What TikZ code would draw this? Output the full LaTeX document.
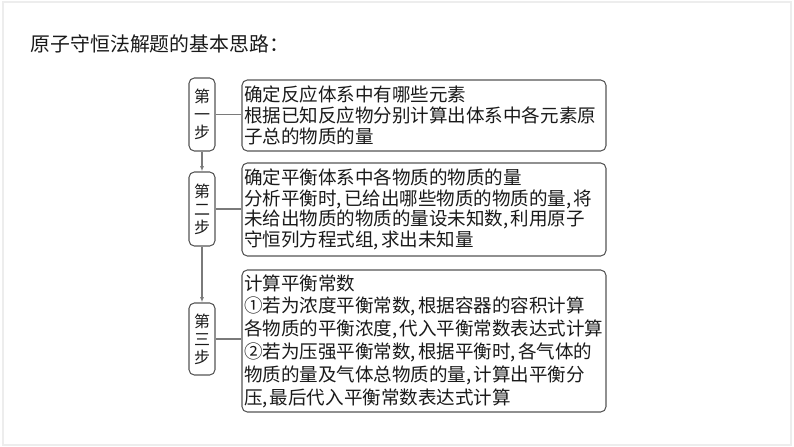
\documentclass[tikz,border=0pt]{standalone}
\usepackage{fontspec}
\setmainfont{Noto Sans CJK SC}
\usepackage{xcolor}
\usepackage{tikz}
\usetikzlibrary{arrows.meta}
\definecolor{ink}{HTML}{1A1A1A}
\definecolor{edge}{HTML}{555555}
\definecolor{wire}{HTML}{7A7A7A}
\definecolor{frame}{HTML}{EDEDED}
\newcommand{\halfComma}{\makebox[0.4em][l]{,}}
\tikzset{
  stepBox/.style={draw=edge, line width=0.8pt, rounded corners=4pt, inner sep=0pt,
    minimum width=19.5pt, align=center, text=ink,
    font=\fontsize{12}{13.5}\selectfont},
  infoBox/.style={draw=edge, line width=0.8pt, rounded corners=4pt, inner xsep=1.5pt,
    inner ysep=2pt, minimum width=273pt, text width=270pt, align=left, text=ink},
  link/.style={draw=wire, line width=0.8pt},
  flowArrow/.style={draw=wire, line width=0.8pt, -{Latex[length=4pt,width=3pt]}},
  titleLbl/.style={text=ink, font=\fontsize{14.9}{16}\selectfont, anchor=west},
}

\begin{document}
\begin{tikzpicture}[x=0.75pt,y=-0.75pt]
  \useasboundingbox (0,0) rectangle (794,447);
  \draw[frame, line width=1pt] (3,2) rectangle (791,445);

  \node[titleLbl] (title) at (26,44) {原子守恒法解题的基本思路：};

  % steps on the left
  \node[stepBox, minimum height=54.75pt] (stepOne) at (202,114.5) {第\\一\\步};
  \node[stepBox, minimum height=55.5pt]  (stepTwo) at (202,209) {第\\二\\步};
  \node[stepBox, minimum height=54pt]    (stepThree) at (202,339) {第\\三\\步};

  % what to do in each step
  \node[infoBox, minimum height=53.25pt, font=\fontsize{13.9}{15.8}\selectfont] (infoOne) at (424,115.5)
    {确定反应体系中有哪些元素\\根据已知反应物分别计算出体系中各元素原\\子总的物质的量};
  \node[infoBox, minimum height=69.75pt, font=\fontsize{13.9}{15.5}\selectfont] (infoTwo) at (424,209.5)
    {确定平衡体系中各物质的物质的量\\分析平衡时\halfComma 已给出哪些物质的物质的量\halfComma 将\\未给出物质的物质的量设未知数\halfComma 利用原子\\守恒列方程式组\halfComma 求出未知量};
  \node[infoBox, minimum height=106.5pt, font=\fontsize{13.9}{17.1}\selectfont] (infoThree) at (424,341)
    {计算平衡常数\\①若为浓度平衡常数\halfComma 根据容器的容积计算\\各物质的平衡浓度\halfComma 代入平衡常数表达式计算\\②若为压强平衡常数\halfComma 根据平衡时\halfComma 各气体的\\物质的量及气体总物质的量\halfComma 计算出平衡分\\压\halfComma 最后代入平衡常数表达式计算};

  \draw[flowArrow] (stepOne.south) -- (stepTwo.north);
  \draw[flowArrow] (stepTwo.south) -- (stepThree.north);

  \draw[link] (stepOne.east) -- (stepOne.east -| infoOne.west);
  \draw[link] (stepTwo.east) -- (stepTwo.east -| infoTwo.west);
  \draw[link] (stepThree.east) -- (stepThree.east -| infoThree.west);
\end{tikzpicture}
\end{document}
